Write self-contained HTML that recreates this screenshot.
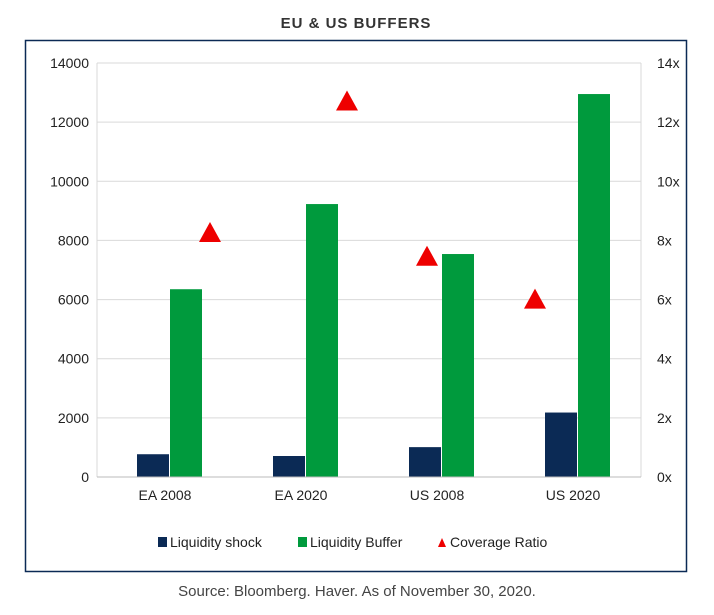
<!DOCTYPE html>
<html><head><meta charset="utf-8"><style>
body{margin:0;background:#fff;width:714px;height:610px;overflow:hidden;font-family:"Liberation Sans",Arial,sans-serif}
</style></head><body>
<svg id="c" width="714" height="610" xmlns="http://www.w3.org/2000/svg">
<text x="356" y="28" text-anchor="middle" font-size="15" font-weight="bold" fill="#333" letter-spacing="1">EU &amp; US BUFFERS</text>
<rect x="25.5" y="40.5" width="661" height="531" fill="none" stroke="#0b2a55" stroke-width="1.5"/>
<g id="grid"></g><g id="bars"></g><g id="axes"></g>
<g font-size="14" fill="#222">
<rect x="158" y="537" width="9" height="10" fill="#0b2a55"/>
<text x="170" y="547">Liquidity shock</text>
<rect x="298" y="537" width="9" height="10" fill="#009a3d"/>
<text x="310" y="547">Liquidity Buffer</text>
<polygon points="442,538 438,547 446,547" fill="#e00"/>
<text x="450" y="547">Coverage Ratio</text>
</g>
<text x="357" y="596" text-anchor="middle" font-size="15" fill="#444">Source: Bloomberg. Haver. As of November 30, 2020.</text>
</svg>
<script>
const categories=["EA 2008","EA 2020","US 2008","US 2020"];
const liquidityShock=[770,710,1010,2180];
const liquidityBuffer=[6350,9230,7540,12950];
const coverageRatio=[8.25,12.7,7.45,6.0];
const coverageOffset=[45,46,-10,-38];
const leftTicks=[0,2000,4000,6000,8000,10000,12000,14000];
const rightTicks=["0x","2x","4x","6x","8x","10x","12x","14x"];
const NS="http://www.w3.org/2000/svg";
const X0=97,X1=641,Y0=477,Y1=63;
const yL=v=>Y0-(v/14000)*(Y0-Y1);
const yR=v=>Y0-(v/14)*(Y0-Y1);
const bw=(X1-X0)/categories.length;
const xc=i=>X0+bw*(i+0.5);
function mk(tag,at,parent){const e=document.createElementNS(NS,tag);for(const k in at)e.setAttribute(k,at[k]);document.getElementById(parent).appendChild(e);return e;}
leftTicks.forEach((t,i)=>{
  const y=yL(t);
  if(t>0){const g=mk("line",{x1:X0,x2:X1,y1:y,y2:y,stroke:"#d9d9d9"},"grid");
  
  }
  const a=mk("text",{x:X0-8,y:y+5,"text-anchor":"end","font-size":14,fill:"#222"},"axes");a.textContent=t;
  
  
  const b=mk("text",{x:X1+16,y:y+5,"font-size":14,fill:"#222"},"axes");b.textContent=rightTicks[i];
  
  
});
[[X0,X0],[X1,X1]].forEach(p=>{const l=mk("line",{x1:p[0],x2:p[1],y1:Y1,y2:Y0,stroke:"#d9d9d9"},"axes");
  
  });
const xa=mk("line",{x1:X0,x2:X1,y1:Y0,y2:Y0,stroke:"#bbb"},"axes");


categories.forEach((c,i)=>{
  const cx=xc(i);
  const s=mk("rect",{x:cx-28,y:yL(liquidityShock[i]),width:32,height:Y0-yL(liquidityShock[i]),fill:"#0b2a55"},"bars");
  
  
  const b=mk("rect",{x:cx+5,y:yL(liquidityBuffer[i]),width:32,height:Y0-yL(liquidityBuffer[i]),fill:"#009a3d"},"bars");
  
  
  const tx=cx+coverageOffset[i],ty=yR(coverageRatio[i]);
  const p=mk("polygon",{points:`${tx},${ty-11} ${tx-11},${ty+9} ${tx+11},${ty+9}`,fill:"#e00"},"bars");
  
  
  const t=mk("text",{x:cx,y:Y0+23,"text-anchor":"middle","font-size":14,fill:"#222"},"axes");t.textContent=c;
  
  
});
</script>
</body></html>
